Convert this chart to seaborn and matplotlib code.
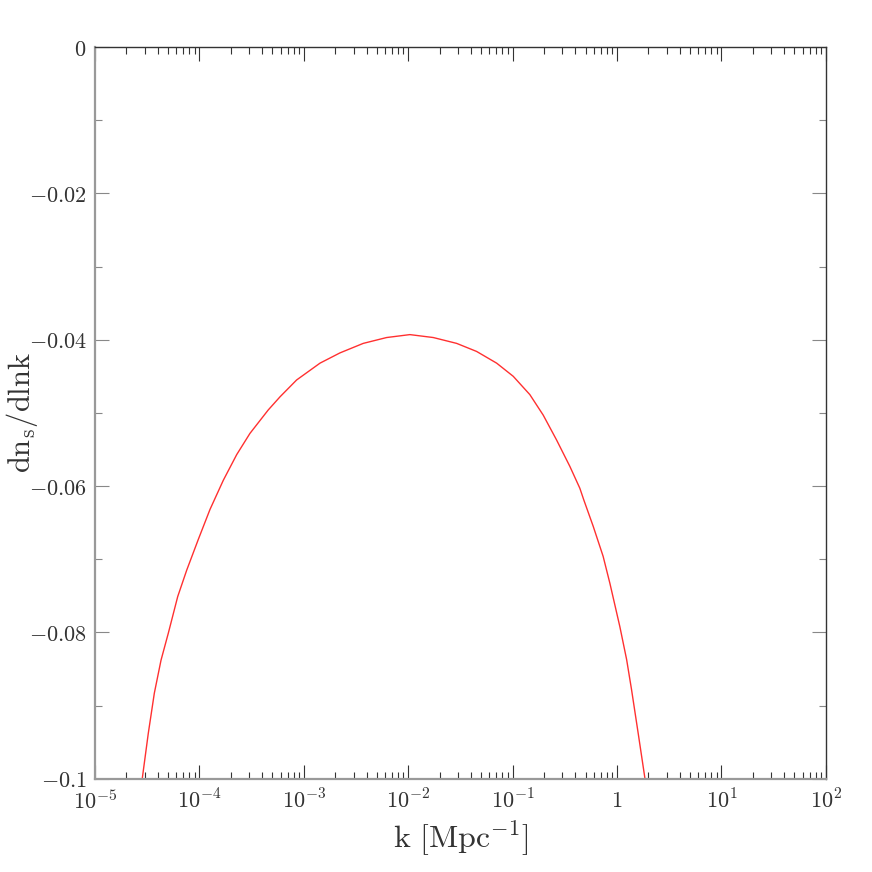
# Slope of the spectral index, dn_s/dlnk, against k
import numpy as np
import pandas as pd
import seaborn as sns
import matplotlib
matplotlib.use("Agg")
import matplotlib.pyplot as plt
from matplotlib.ticker import FixedLocator, FuncFormatter, LogLocator, MultipleLocator

# Curve points (log10 k, dn_s/dlnk)
log_k = [-4.547, -4.490, -4.432, -4.368, -4.298, -4.208, -4.122, -4.011, -3.899,
         -3.771, -3.643, -3.516, -3.341, -3.228, -3.069, -2.845, -2.654, -2.431,
         -2.207, -1.984, -1.760, -1.536, -1.345, -1.153, -0.994, -0.835, -0.707,
         -0.579, -0.452, -0.356, -0.318, -0.228, -0.133, -0.068, 0.027, 0.092,
         0.139, 0.203, 0.267]
dns_dlnk = [-0.0999, -0.0938, -0.0883, -0.0838, -0.0801, -0.0751, -0.0715, -0.0673,
            -0.0632, -0.0592, -0.0557, -0.0528, -0.0496, -0.0478, -0.0455, -0.0432,
            -0.0418, -0.0405, -0.0397, -0.0393, -0.0397, -0.0405, -0.0416, -0.0432,
            -0.0450, -0.0475, -0.0503, -0.0537, -0.0573, -0.0603, -0.0619, -0.0655,
            -0.0696, -0.0733, -0.0792, -0.0837, -0.0878, -0.0938, -0.0999]

x_ticks = [1e-5, 1e-4, 1e-3, 1e-2, 1e-1, 1, 1e1, 1e2]
x_labels = [r"$10^{-5}$", r"$10^{-4}$", r"$10^{-3}$", r"$10^{-2}$", r"$10^{-1}$",
            r"$1$", r"$10^{1}$", r"$10^{2}$"]
y_ticks = [-0.1, -0.08, -0.06, -0.04, -0.02, 0]
y_labels = [r"$-0.1$", r"$-0.08$", r"$-0.06$", r"$-0.04$", r"$-0.02$", r"$0$"]

df = pd.DataFrame({"k": 10 ** np.array(log_k), "dns": dns_dlnk})

sns.set_theme(style="ticks")
plt.rcParams["mathtext.fontset"] = "cm"
plt.rcParams["font.family"] = ["DejaVu Serif"]

fig = plt.figure(figsize=(8.72, 8.72), dpi=100)
ax = fig.add_axes([0.109, 0.107, 0.838, 0.839])

sns.lineplot(data=df, x="k", y="dns", ax=ax, color="#ff3030", linewidth=1.0,
             sort=False, estimator=None)

ax.set_xscale("log")
ax.set_xlim(1e-5, 1e2)
ax.set_ylim(-0.1, 0)

ax.xaxis.set_major_locator(FixedLocator(x_ticks))
ax.xaxis.set_major_formatter(FuncFormatter(lambda v, p: x_labels[x_ticks.index(v)] if v in x_ticks else ""))
ax.xaxis.set_minor_locator(LogLocator(base=10, subs=np.arange(2, 10), numticks=20))
ax.xaxis.set_minor_formatter(FuncFormatter(lambda v, p: ""))
ax.yaxis.set_major_locator(FixedLocator(y_ticks))
ax.set_yticklabels(y_labels)
ax.yaxis.set_minor_locator(MultipleLocator(0.01))

ax.tick_params(which="both", direction="in", top=True, right=True,
               labelsize=16, colors="#333333", width=0.8)
ax.tick_params(which="major", length=10, pad=8)
ax.tick_params(axis="y", which="major", pad=6)
ax.tick_params(which="minor", length=5)
ax.tick_params(axis="y", which="both", color="#888888")

for side in ["left", "bottom"]:
    ax.spines[side].set_color("#999999")
    ax.spines[side].set_linewidth(1.6)
for side in ["top", "right"]:
    ax.spines[side].set_color("#333333")
    ax.spines[side].set_linewidth(1.0)

ax.set_xlabel(r"$\mathrm{k\ [Mpc^{-1}]}$", fontsize=23, color="#333333", labelpad=3)
ax.set_ylabel(r"$\mathrm{dn_s/dlnk}$", fontsize=22, color="#333333")
ax.yaxis.set_label_coords(-0.075, 0.5)

fig.savefig("out.png", dpi=100)
